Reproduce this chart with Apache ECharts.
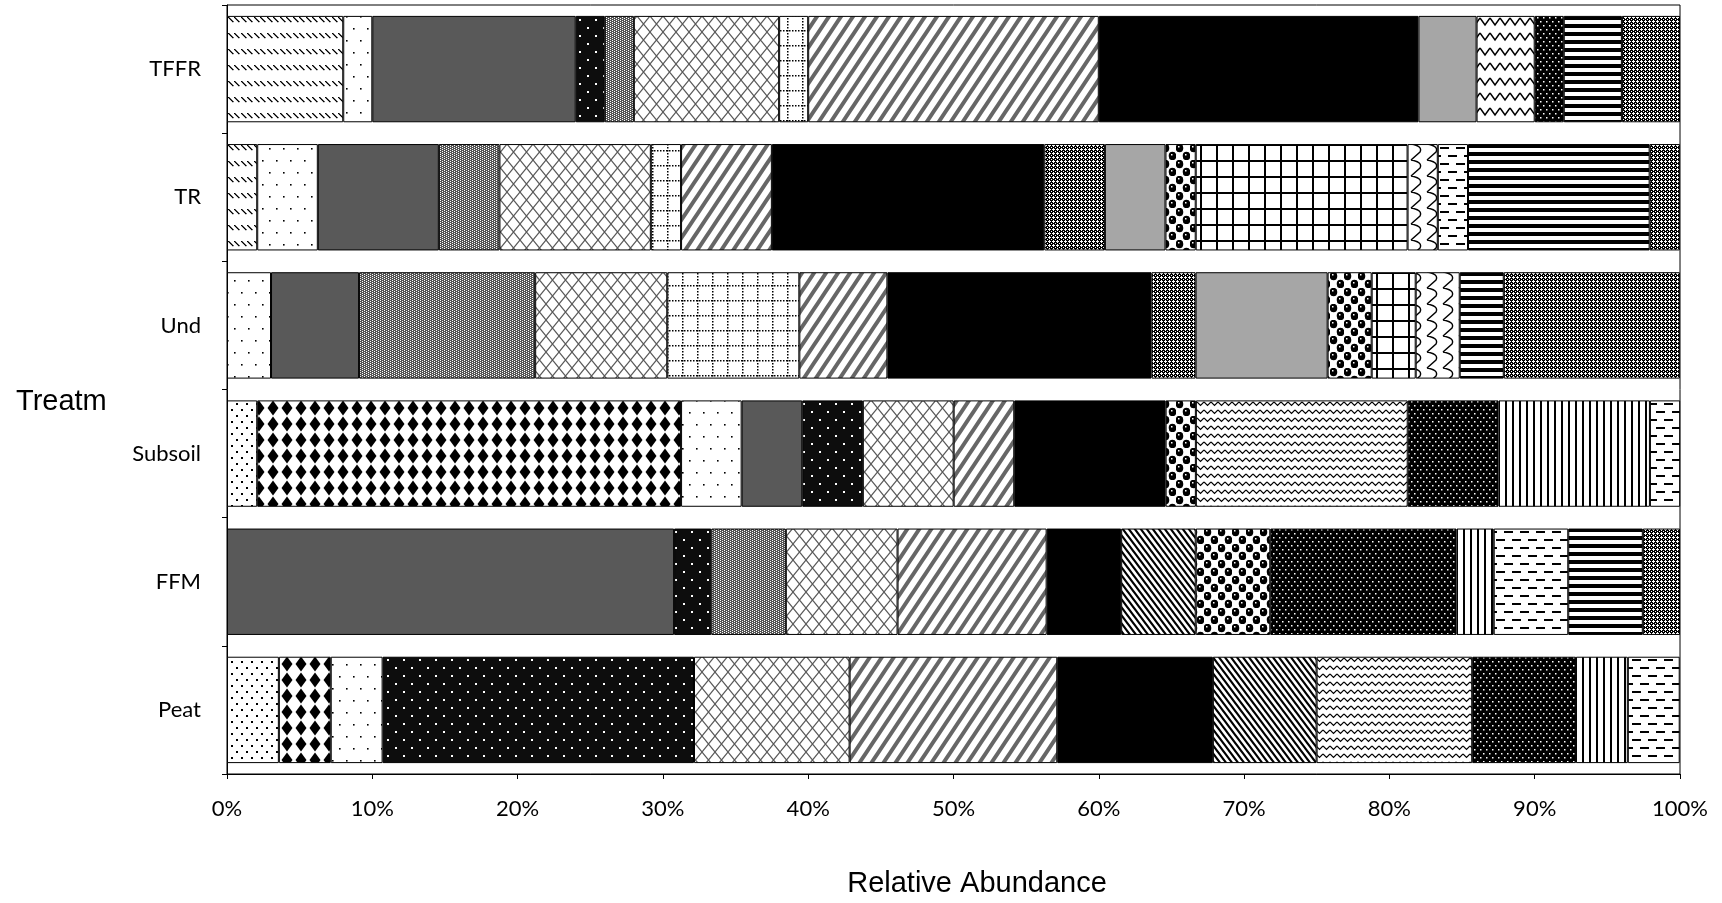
<!DOCTYPE html>
<html>
<head>
<meta charset="utf-8">
<script src="https://cdn.jsdelivr.net/npm/echarts@6/dist/echarts.min.js"></script>
<style>
  html, body { margin: 0; padding: 0; background: #fff; }
  #chart { width: 1722px; height: 903px; }
</style>
</head>
<body>
<div id="chart"></div>
<script>
// Treatments, bottom to top on the category axis
const treatments = ['Peat', 'FFM', 'Subsoil', 'Und', 'TR', 'TFFR'];

// Relative abundance (%) of each taxon, in the order of `treatments`
const taxon01 = [0, 0, 0, 0, 2.08, 8];
const taxon02 = [3.57, 0, 2.08, 0, 0, 0];
const taxon03 = [3.57, 0, 29.17, 0, 0, 0];
const taxon04 = [3.57, 0, 4.17, 3.03, 4.17, 2];
const taxon05 = [0, 30.77, 4.17, 6.06, 8.33, 14];
const taxon06 = [21.43, 2.56, 4.17, 0, 0, 2];
const taxon07 = [0, 5.13, 0, 12.12, 4.17, 2];
const taxon08 = [10.71, 7.69, 6.25, 9.09, 10.42, 10];
const taxon09 = [0, 0, 0, 9.09, 2.08, 2];
const taxon10 = [14.29, 10.26, 4.17, 6.06, 6.25, 20];
const taxon11 = [10.71, 5.13, 10.42, 18.18, 18.75, 22];
const taxon12 = [7.14, 5.13, 0, 0, 0, 0];
const taxon13 = [0, 0, 0, 3.03, 4.17, 0];
const taxon14 = [0, 0, 0, 9.09, 4.17, 4];
const taxon15 = [0, 5.13, 2.08, 3.03, 2.08, 0];
const taxon16 = [0, 0, 0, 3.03, 14.58, 0];
const taxon17 = [0, 0, 0, 3.03, 2.08, 0];
const taxon18 = [0, 0, 0, 0, 0, 4];
const taxon19 = [10.71, 0, 14.58, 0, 0, 0];
const taxon20 = [7.14, 12.82, 6.25, 0, 0, 2];
const taxon21 = [3.57, 2.56, 10.42, 0, 0, 0];
const taxon22 = [3.57, 5.13, 2.08, 0, 2.08, 0];
const taxon23 = [0, 5.13, 0, 3.03, 12.5, 4];
const taxon24 = [0, 2.56, 0, 12.12, 2.08, 4];

const taxa = [taxon01, taxon02, taxon03, taxon04, taxon05, taxon06, taxon07, taxon08,
              taxon09, taxon10, taxon11, taxon12, taxon13, taxon14, taxon15, taxon16,
              taxon17, taxon18, taxon19, taxon20, taxon21, taxon22, taxon23, taxon24];

// ---- pattern fills ----
function makeTile(w, h, bg, paint) {
  const c = document.createElement('canvas');
  c.width = w; c.height = h;
  const g = c.getContext('2d');
  g.fillStyle = bg; g.fillRect(0, 0, w, h);
  if (paint) paint(g, w, h);
  return { image: c, repeat: 'repeat' };
}
function dots(g, col, pts, s) {
  g.fillStyle = col;
  pts.forEach(([x, y]) => g.fillRect(x, y, s, s));
}

const fills = {
  dashedDiag: makeTile(13, 16, '#fff', g => {
    g.fillStyle = '#000';
    [0, 7].forEach(ox => { for (let i = 0; i < 5; i++) g.fillRect(ox + i, 1 + i, 1.6, 1.2); });
  }),
  dots20: makeTile(10, 12, '#fff', g => dots(g, '#000', [[1, 1], [6, 7]], 2)),
  solidDiamond: makeTile(14, 16, '#fff', g => {
    g.fillStyle = '#000';
    g.beginPath(); g.moveTo(7, 0.5); g.lineTo(12.5, 8); g.lineTo(7, 15.5); g.lineTo(1.5, 8); g.closePath(); g.fill();
  }),
  dots5: makeTile(14, 24, '#fff', g => dots(g, '#000', [[3, 4], [10, 16]], 1.6)),
  darkGray: '#595959',
  pct90: makeTile(16, 16, '#0d0d0d', g => dots(g, '#fff', [[3, 3], [11, 11]], 2)),
  grayMesh: makeTile(4, 2, '#555', g => dots(g, '#fff', [[0, 0], [2, 1]], 1)),
  lattice: makeTile(13, 16, '#fff', g => {
    g.strokeStyle = '#5a5a5a'; g.lineWidth = 1.2;
    g.beginPath(); g.moveTo(0, 0); g.lineTo(13, 16); g.moveTo(13, 0); g.lineTo(0, 16); g.stroke();
  }),
  dottedGrid: makeTile(15, 15, '#fff', g => {
    g.fillStyle = '#000';
    for (let i = 0; i < 15; i += 3) { g.fillRect(i, 0, 1.5, 1.5); g.fillRect(7, i, 1.5, 1.5); }
  }),
  wideUp: makeTile(12, 18, '#fff', g => {
    g.strokeStyle = '#666'; g.lineWidth = 4;
    g.beginPath();
    [-12, 0, 12].forEach(o => { g.moveTo(o - 2, 21); g.lineTo(o + 14, -3); });
    g.stroke();
  }),
  black: '#000',
  darkDown: makeTile(6, 8, '#fff', g => {
    g.strokeStyle = '#000'; g.lineWidth = 2.2;
    g.beginPath();
    [-6, 0, 6].forEach(o => { g.moveTo(o - 1.5, -2); g.lineTo(o + 7.5, 10); });
    g.stroke();
  }),
  // black ground with small white crosses
  fineChecker: makeTile(4, 4, '#000', g => dots(g, '#fff', [[1, 0], [0, 1], [1, 1], [2, 1], [1, 2], [3, 3]], 1)),
  lightGray: '#a6a6a6',
  sphere: makeTile(14, 16, '#fff', g => {
    g.fillStyle = '#000';
    [[3.5, 4], [10.5, 12]].forEach(([x, y]) => { g.beginPath(); g.ellipse(x, y, 3.8, 4.2, 0, 0, Math.PI * 2); g.fill(); });
    dots(g, '#fff', [[2, 2], [9, 10]], 1.5);
  }),
  largeGrid: makeTile(16, 16, '#fff', g => { g.fillStyle = '#000'; g.fillRect(0, 0, 16, 2); g.fillRect(0, 0, 2, 16); }),
  wave: makeTile(16, 16, '#fff', g => {
    g.strokeStyle = '#000'; g.lineWidth = 1.4;
    g.beginPath(); g.moveTo(3, 0); g.quadraticCurveTo(15, 2, 12, 8); g.lineTo(3, 16); g.stroke();
  }),
  zigzagWide: makeTile(10, 15, '#fff', g => {
    g.strokeStyle = '#000'; g.lineWidth = 1.5;
    g.beginPath(); g.moveTo(0, 3); g.lineTo(5, 10); g.lineTo(10, 3); g.stroke();
  }),
  zigzag: makeTile(7, 8, '#fff', g => {
    g.strokeStyle = '#000'; g.lineWidth = 1.2;
    g.beginPath(); g.moveTo(0, 2); g.lineTo(3.5, 5.5); g.lineTo(7, 2); g.stroke();
  }),
  pct80: makeTile(6, 8, '#000', g => dots(g, '#fff', [[1, 1], [4, 5]], 1.5)),
  narrowVert: makeTile(7, 1, '#fff', g => { g.fillStyle = '#000'; g.fillRect(0, 0, 2, 1); }),
  dashedHoriz: makeTile(16, 16, '#fff', g => {
    g.fillStyle = '#000'; g.fillRect(0, 3, 9, 2); g.fillRect(8, 11, 9, 2); g.fillRect(-8, 11, 9, 2);
  }),
  darkHoriz: makeTile(1, 8, '#fff', g => { g.fillStyle = '#000'; g.fillRect(0, 0, 1, 4); })
};

// fill of each taxon, in stacking order
const taxonFills = ['dashedDiag', 'dots20', 'solidDiamond', 'dots5', 'darkGray', 'pct90',
  'grayMesh', 'lattice', 'dottedGrid', 'wideUp', 'black', 'darkDown', 'fineChecker',
  'lightGray', 'sphere', 'largeGrid', 'wave', 'zigzagWide', 'zigzag', 'pct80',
  'narrowVert', 'dashedHoriz', 'darkHoriz', 'fineChecker'];

const series = taxa.map((vals, i) => ({
  name: 'taxon' + String(i + 1).padStart(2, '0'),
  type: 'bar',
  stack: 'total',
  barCategoryGap: '17%',
  silent: true,
  data: vals.map(v => (v === 0 ? '-' : v)),
  itemStyle: { color: fills[taxonFills[i]], borderColor: '#000', borderWidth: 1 }
}));

const chart = echarts.init(document.getElementById('chart'), null, { renderer: 'canvas' });
chart.setOption({
  animation: false,
  backgroundColor: '#fff',
  grid: { left: 227, right: 42, top: 5, bottom: 129, show: true, borderColor: '#000', borderWidth: 1 },
  xAxis: {
    type: 'value', min: 0, max: 100, interval: 10,
    axisLine: { show: true, lineStyle: { color: '#000', width: 1 } },
    axisTick: { show: true, length: 5, lineStyle: { color: '#000' } },
    splitLine: { show: false },
    axisLabel: { formatter: '{value}%', color: '#000', fontFamily: 'Lato', fontSize: 22, margin: 24 }
  },
  yAxis: {
    type: 'category', data: treatments,
    axisLine: { show: true, lineStyle: { color: '#000', width: 1 } },
    axisTick: { show: true, length: 5, lineStyle: { color: '#000' } },
    axisLabel: { color: '#000', fontFamily: 'Lato', fontSize: 22, margin: 26 }
  },
  graphic: [
    {
      type: 'text', x: 977, y: 884,
      style: { text: 'Relative Abundance', font: '29px "Liberation Sans", Arial, sans-serif', fill: '#000',
               textAlign: 'center', textVerticalAlign: 'middle', align: 'center', verticalAlign: 'middle' }
    },
    {
      type: 'text', x: 16, y: 402,
      style: { text: 'Treatment', font: '29px "Liberation Sans", Arial, sans-serif', fill: '#000',
               width: 100, overflow: 'truncate', ellipsis: '',
               textAlign: 'left', textVerticalAlign: 'middle', align: 'left', verticalAlign: 'middle' }
    }
  ],
  series: series
});
</script>
</body>
</html>
